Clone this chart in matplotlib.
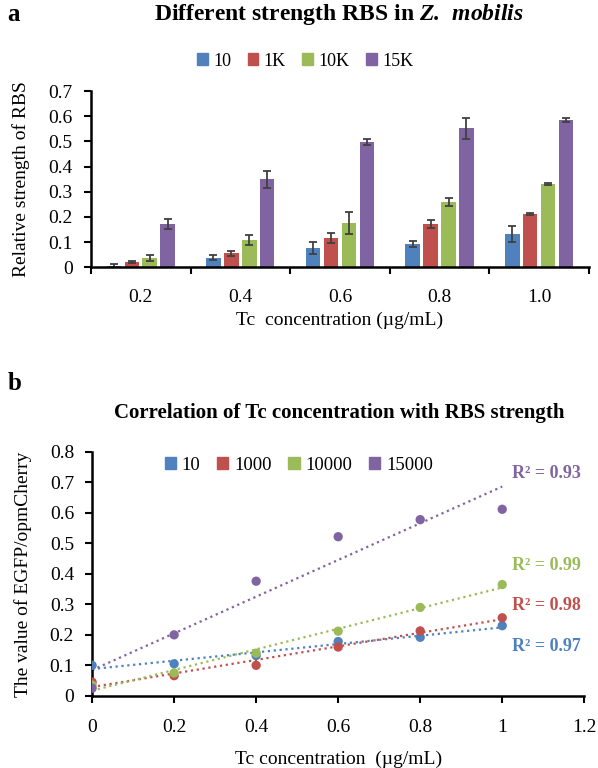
import numpy as np
import matplotlib.pyplot as plt
from matplotlib.patches import Patch

plt.rcParams['font.family'] = ['Liberation Serif', 'DejaVu Serif']
plt.rcParams['mathtext.fontset'] = 'custom'
plt.rcParams['mathtext.bfit'] = 'Liberation Serif:italic:bold'
plt.rcParams['mathtext.rm'] = 'Liberation Serif'

colors = ['#4F81BD', '#C0504D', '#9BBB59', '#8064A2']

# panel a: bar chart
conc_labels = ['0.2', '0.4', '0.6', '0.8', '1.0']
rbs_a = ['10', '1K', '10K', '15K']
bar_10 = [0.005, 0.037, 0.076, 0.092, 0.131]
bar_1k = [0.022, 0.056, 0.115, 0.170, 0.212]
bar_10k = [0.037, 0.107, 0.176, 0.259, 0.330]
bar_15k = [0.170, 0.349, 0.496, 0.552, 0.584]
err_10 = [0.008, 0.010, 0.025, 0.013, 0.032]
err_1k = [0.004, 0.010, 0.020, 0.016, 0.005]
err_10k = [0.012, 0.020, 0.045, 0.015, 0.003]
err_15k = [0.020, 0.035, 0.012, 0.042, 0.007]

# panel b: scatter with linear trend lines
tc = [0, 0.2, 0.4, 0.6, 0.8, 1.0]
rbs_b = ['10', '1000', '10000', '15000']
pt_10 = [0.100, 0.105, 0.132, 0.178, 0.192, 0.230]
pt_1000 = [0.045, 0.066, 0.100, 0.160, 0.213, 0.256]
pt_10000 = [0.035, 0.075, 0.140, 0.212, 0.290, 0.365]
pt_15000 = [0.025, 0.200, 0.376, 0.522, 0.578, 0.612]
r2_text = ['R² = 0.97', 'R² = 0.98', 'R² = 0.99', 'R² = 0.93']
r2_y = [0.163, 0.297, 0.427, 0.728]

fig = plt.figure(figsize=(5.98, 7.68), dpi=100)

# ---- panel a ----
ax1 = fig.add_axes([0.152, 0.652, 0.833, 0.2295])
bars = [bar_10, bar_1k, bar_10k, bar_15k]
errs = [err_10, err_1k, err_10k, err_15k]
x = np.arange(len(conc_labels))
pitch, width = 0.18, 0.145
for i, (vals, e) in enumerate(zip(bars, errs)):
    ax1.bar(x + (i - 1.5) * pitch, vals, width, color=colors[i],
            yerr=e, error_kw=dict(ecolor='#404040', elinewidth=1.3, capsize=3, capthick=1.3))
ax1.set_xlim(-0.5, len(conc_labels) - 0.5)
ax1.set_ylim(0, 0.7)
ax1.set_yticks(np.arange(0, 0.71, 0.1))
ax1.set_yticklabels(['0'] + [f'{v:.1f}' for v in np.arange(0.1, 0.71, 0.1)])
ax1.set_xticks(np.arange(-0.5, len(conc_labels), 1.0))
ax1.set_xticklabels([])
ax1.set_xticks(x, minor=True)
ax1.set_xticklabels(conc_labels, minor=True)
ax1.tick_params(axis='both', which='major', length=5, width=1.5, labelsize=14)
ax1.tick_params(axis='y', pad=8)
ax1.tick_params(axis='x', which='minor', length=0, pad=16, labelsize=14)
for s in ['top', 'right']:
    ax1.spines[s].set_visible(False)
for s in ['left', 'bottom']:
    ax1.spines[s].set_linewidth(1.8)
ax1.set_ylabel('Relative strength of RBS', fontsize=14, labelpad=13)
ax1.set_xlabel('Tc  concentration (µg/mL)', fontsize=14, labelpad=4)
handles = [Patch(color=c) for c in colors]
ax1.legend(handles, rbs_a, ncol=4, frameon=False, fontsize=13,
           loc='center', bbox_to_anchor=(0.43, 1.17), handlelength=0.6,
           handleheight=0.6, handletextpad=0.3, columnspacing=0.9)
fig.text(0.567, 0.981, r'Different strength RBS in $\mathbfit{Z.\ mobilis}$',
         ha='center', va='center', fontsize=17, fontweight='bold')
fig.text(0.012, 0.981, 'a', ha='left', va='center', fontsize=18, fontweight='bold')

# ---- panel b ----
ax2 = fig.add_axes([0.154, 0.094, 0.823, 0.3175])
series = [pt_10, pt_1000, pt_10000, pt_15000]
xs = np.array(tc)
for i, ys in enumerate(series):
    k, b = np.polyfit(xs, ys, 1)
    ax2.plot([0, 1], [b, k + b], linestyle=':', color=colors[i], lw=1.6)
for i, ys in enumerate(series):
    ax2.scatter(xs, ys, s=45, color=colors[i], zorder=3, edgecolors='none')
for i in range(4):
    ax2.text(1.023, r2_y[i], r2_text[i], color=colors[i], fontsize=13,
             fontweight='bold', ha='left', va='center')
ax2.set_xlim(0, 1.2)
ax2.set_ylim(0, 0.8)
ax2.set_xticks(np.arange(0, 1.21, 0.2))
ax2.set_xticklabels(['0', '0.2', '0.4', '0.6', '0.8', '1', '1.2'])
ax2.set_yticks(np.arange(0, 0.81, 0.1))
ax2.set_yticklabels(['0'] + [f'{v:.1f}' for v in np.arange(0.1, 0.81, 0.1)])
ax2.tick_params(axis='both', length=5, width=1.5, labelsize=14)
ax2.tick_params(axis='x', pad=12)
ax2.tick_params(axis='y', pad=8)
for s in ['top', 'right']:
    ax2.spines[s].set_visible(False)
for s in ['left', 'bottom']:
    ax2.spines[s].set_linewidth(1.8)
ax2.set_ylabel('The value of EGFP/opmCherry', fontsize=14, labelpad=13)
ax2.set_xlabel('Tc concentration  (µg/mL)', fontsize=14, labelpad=10)
ax2.legend(handles, rbs_b, ncol=4, frameon=False, fontsize=13.5,
           loc='center', bbox_to_anchor=(0.42, 0.945), handlelength=0.6,
           handleheight=0.6, handletextpad=0.3, columnspacing=0.9)
fig.text(0.567, 0.462, 'Correlation of Tc concentration with RBS strength',
         ha='center', va='center', fontsize=15, fontweight='bold')
fig.text(0.012, 0.500, 'b', ha='left', va='center', fontsize=18, fontweight='bold')

fig.savefig('out.png', dpi=100)
